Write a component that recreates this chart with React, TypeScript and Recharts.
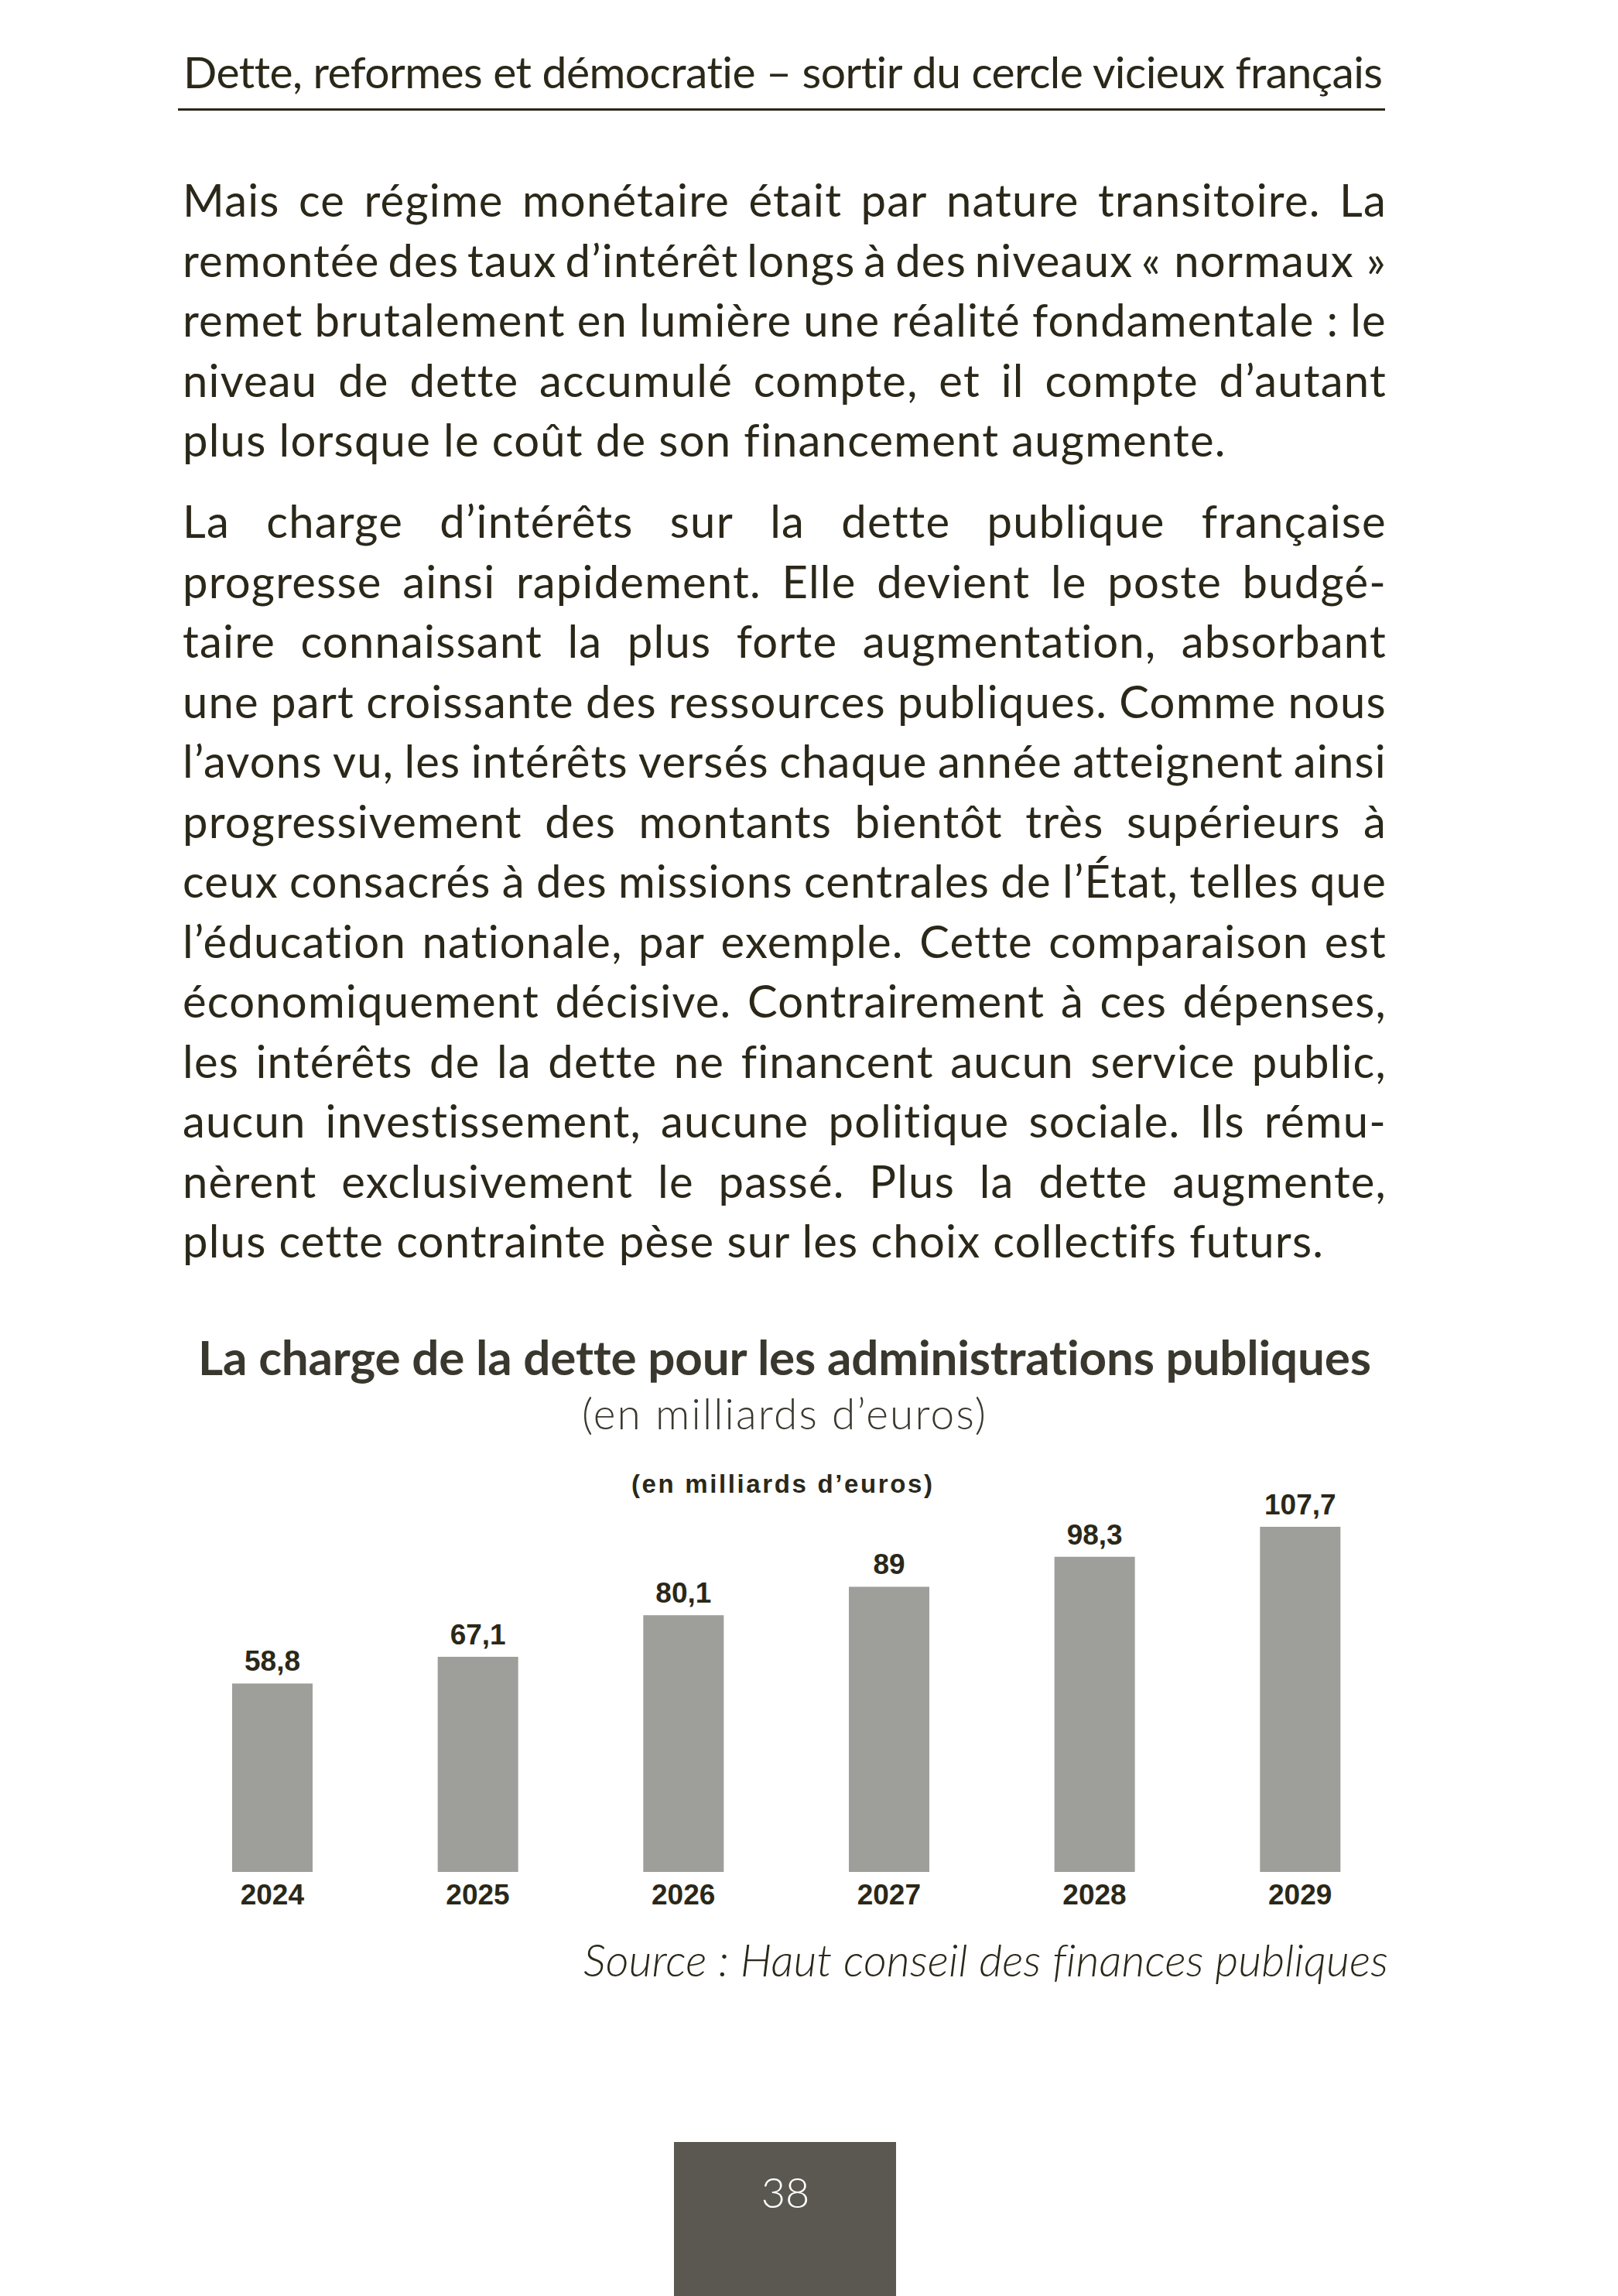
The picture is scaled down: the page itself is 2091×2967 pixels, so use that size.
import React from "react";
import { BarChart, Bar, XAxis, YAxis, LabelList } from "recharts";

// chart data
const years = ["2024", "2025", "2026", "2027", "2028", "2029"];
const charge = [58.8, 67.1, 80.1, 89, 98.3, 107.7];
const yDomain = [0, 120];

// page texts
const header = "Dette, reformes et démocratie – sortir du cercle vicieux français";
const para1 = [
  "Mais ce régime monétaire était par nature transitoire. La",
  "remontée des taux d’intérêt longs à des niveaux «\u00a0normaux\u00a0»",
  "remet brutalement en lumière une réalité fondamentale\u00a0: le",
  "niveau de dette accumulé compte, et il compte d’autant",
  "plus lorsque le coût de son financement augmente.",
];
const para2 = [
  "La charge d’intérêts sur la dette publique française",
  "progresse ainsi rapidement. Elle devient le poste budgé-",
  "taire connaissant la plus forte augmentation, absorbant",
  "une part croissante des ressources publiques. Comme nous",
  "l’avons vu, les intérêts versés chaque année atteignent ainsi",
  "progressivement des montants bientôt très supérieurs à",
  "ceux consacrés à des missions centrales de l’État, telles que",
  "l’éducation nationale, par exemple. Cette comparaison est",
  "économiquement décisive. Contrairement à ces dépenses,",
  "les intérêts de la dette ne financent aucun service public,",
  "aucun investissement, aucune politique sociale. Ils rému-",
  "nèrent exclusivement le passé. Plus la dette augmente,",
  "plus cette contrainte pèse sur les choix collectifs futurs.",
];
const title = "La charge de la dette pour les administrations publiques";
const subtitle = "(en milliards d’euros)";
const unitNote = "(en milliards d’euros)";
const source = "Source\u00a0: Haut conseil des finances publiques";
const pageNumber = "38";

const data = years.map((y, i) => ({ year: y, value: charge[i] }));

const INK = "#2b2819";
const BODY_FONT = "Lato, 'Open Sans', sans-serif";
const CHART_FONT = "'Liberation Sans', Arial, sans-serif";
const BODY_SIZE = 58;
const LINE_H = 77.5;
const BASE_OFF = 57; // baseline offset inside a line div
const NO_LIGA = { fontVariantLigatures: "none" as const };

const fmt = (v: any) => String(v).replace(".", ",");

function Line({ text, top, justify }: { text: string; top: number; justify: boolean }) {
  const words = text.split(" ");
  return (
    <div
      style={{
        position: "absolute",
        left: 236,
        top,
        width: 1556,
        height: LINE_H,
        lineHeight: `${BODY_SIZE * 1.2}px`,
        fontFamily: BODY_FONT,
        fontSize: BODY_SIZE,
        letterSpacing: 1.2,
        color: INK,
        whiteSpace: "nowrap",
        display: justify ? "flex" : "block",
        justifyContent: "space-between",
        ...NO_LIGA,
      }}
    >
      {justify ? words.map((w, i) => <span key={i}>{w}</span>) : text}
    </div>
  );
}

function YearTick({ x, y, payload }: any) {
  return (
    <text x={x} y={y + 34} textAnchor="middle" fill={INK} fontFamily={CHART_FONT} fontWeight="bold" fontSize={37}>
      {payload.value}
    </text>
  );
}

export default function App() {
  return (
    <div style={{ position: "absolute", left: 0, top: 0, width: 2091, height: 2967, background: "#fff", overflow: "hidden" }}>
      {para1.map((t, i) => (
        <Line key={"a" + i} text={t} top={280 + i * LINE_H - BASE_OFF} justify={i < para1.length - 1} />
      ))}
      {para2.map((t, i) => (
        <Line key={"b" + i} text={t} top={695 + i * LINE_H - BASE_OFF} justify={i < para2.length - 1} />
      ))}

      <svg width={2091} height={2967} style={{ position: "absolute", left: 0, top: 0, ...NO_LIGA }}>
        <text x={237} y={114} fontFamily={BODY_FONT} fontSize={57} fill={INK} textLength={1550} lengthAdjust="spacing">
          {header}
        </text>
        <rect x={230} y={140} width={1560} height={3} fill={INK} />
        <text x={256} y={1777} fontFamily={BODY_FONT} fontWeight={700} fontSize={62} fill="#3a382e" textLength={1516} lengthAdjust="spacing">
          {title}
        </text>
        <text x={752} y={1847} fontFamily={BODY_FONT} fontWeight={300} fontSize={55} fill="#3a382e" textLength={522} lengthAdjust="spacing">
          {subtitle}
        </text>
        <text x={816} y={1929} fontFamily={CHART_FONT} fontWeight="bold" fontSize={33} fill={INK} textLength={389} lengthAdjust="spacing">
          {unitNote}
        </text>
        <text x={754} y={2554} fontFamily={BODY_FONT} fontStyle="italic" fontWeight={300} fontSize={58} fill={INK} textLength={1040} lengthAdjust="spacing">
          {source}
        </text>
        <rect x={871} y={2768} width={287} height={199} fill="#5a5850" />
        <text x={1015} y={2853} textAnchor="middle" fontFamily={BODY_FONT} fontWeight={300} fontSize={54} fill="#fff">
          {pageNumber}
        </text>
      </svg>

      <div style={{ position: "absolute", left: 219, top: 1922 }}>
        <BarChart width={1594} height={557} data={data} margin={{ top: 0, right: 0, bottom: 0, left: 0 }}>
          <XAxis dataKey="year" axisLine={false} tickLine={false} height={60} tick={<YearTick />} interval={0} />
          <YAxis hide domain={yDomain} />
          <Bar dataKey="value" fill="#9e9e9a" barSize={104} isAnimationActive={false}>
            <LabelList
              dataKey="value"
              position="top"
              offset={16}
              formatter={fmt}
              fill={INK}
              fontFamily={CHART_FONT}
              fontWeight="bold"
              fontSize={37}
            />
          </Bar>
        </BarChart>
      </div>
    </div>
  );
}
